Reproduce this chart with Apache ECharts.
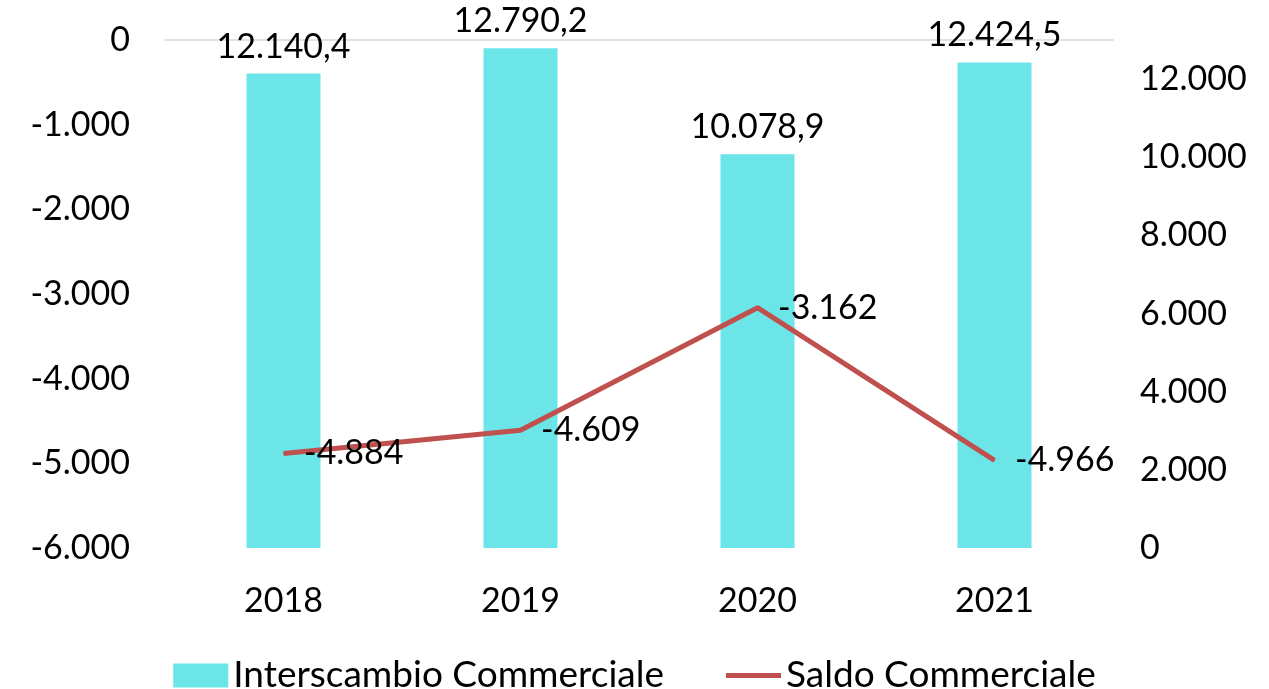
<!DOCTYPE html>
<html><head><meta charset="utf-8">
<script src="https://cdn.jsdelivr.net/npm/echarts@6/dist/echarts.min.js"></script>
<style>html,body{margin:0;padding:0;background:#fff}#c{width:1269px;height:689px}</style>
</head><body><div id="c"></div>
<script>
const categories = ['2018', '2019', '2020', '2021'];
const interscambio = [12140.4, 12790.2, 10078.9, 12424.5];
const saldo = [-4884, -4609, -3162, -4966];
const leftTicks = [0, -1000, -2000, -3000, -4000, -5000, -6000];
const rightTicks = [0, 2000, 4000, 6000, 8000, 10000, 12000];

function fmt(v, dec) {
  const neg = v < 0;
  let s = Math.abs(v).toFixed(dec);
  let [i, d] = s.split('.');
  i = i.replace(/\B(?=(\d{3})+(?!\d))/g, '.');
  return (neg ? '-' : '') + i + (d ? ',' + d : '');
}
const FONT = 'Lato';
const FS = 34;
const chart = echarts.init(document.getElementById('c'));
chart.setOption({
  animation: false,
  textStyle: { fontFamily: FONT },
  grid: { left: 165, right: 156, top: 40, bottom: 141 },
  legend: {
    top: 652, left: 'center', itemGap: 62, itemWidth: 55, itemHeight: 24,
    textStyle: { fontSize: 37, color: '#000', fontFamily: FONT },
    data: [
      { name: 'Interscambio Commerciale', icon: 'rect' },
      { name: 'Saldo Commerciale', icon: 'path://M0,0H11V1H0Z' }
    ]
  },
  xAxis: [{
    type: 'category', data: categories,
    axisLine: { show: false }, axisTick: { show: false },
    axisLabel: { fontSize: FS, color: '#000', margin: 36, fontFamily: FONT }
  }, {
    type: 'category', data: categories, position: 'top',
    axisLine: { show: true, onZero: false, lineStyle: { color: '#D9D9D9', width: 1.5 } },
    axisTick: { show: false }, axisLabel: { show: false }
  }],
  yAxis: [{
    type: 'value', min: leftTicks[leftTicks.length - 1], max: leftTicks[0], interval: 1000,
    splitLine: { show: false }, axisLine: { show: false }, axisTick: { show: false },
    axisLabel: { fontSize: FS, color: '#000', margin: 35, fontFamily: FONT, formatter: v => fmt(v, 0) }
  }, {
    type: 'value', min: rightTicks[0], max: 13000, interval: 2000, position: 'right',
    splitLine: { show: false }, axisLine: { show: false }, axisTick: { show: false },
    axisLabel: { fontSize: FS, color: '#000', margin: 27, fontFamily: FONT, showMaxLabel: false,
      formatter: v => rightTicks.includes(v) ? fmt(v, 0) : '' }
  }],
  series: [{
    name: 'Interscambio Commerciale', type: 'bar', yAxisIndex: 1, data: interscambio,
    barWidth: 74, itemStyle: { color: '#6BE5E8' },
    label: { show: true, position: 'top', distance: 10, fontSize: FS, color: '#000', fontFamily: FONT,
      formatter: p => fmt(p.value, 1) }
  }, {
    name: 'Saldo Commerciale', type: 'line', yAxisIndex: 0, data: saldo,
    lineStyle: { color: '#C0504D', width: 5 }, itemStyle: { color: '#C0504D' },
    symbol: 'circle', symbolSize: 1,
    label: { show: true, position: 'right', distance: 20, fontSize: FS, color: '#000', fontFamily: FONT,
      formatter: p => fmt(p.value, 0) }
  }]
});
</script></body></html>
